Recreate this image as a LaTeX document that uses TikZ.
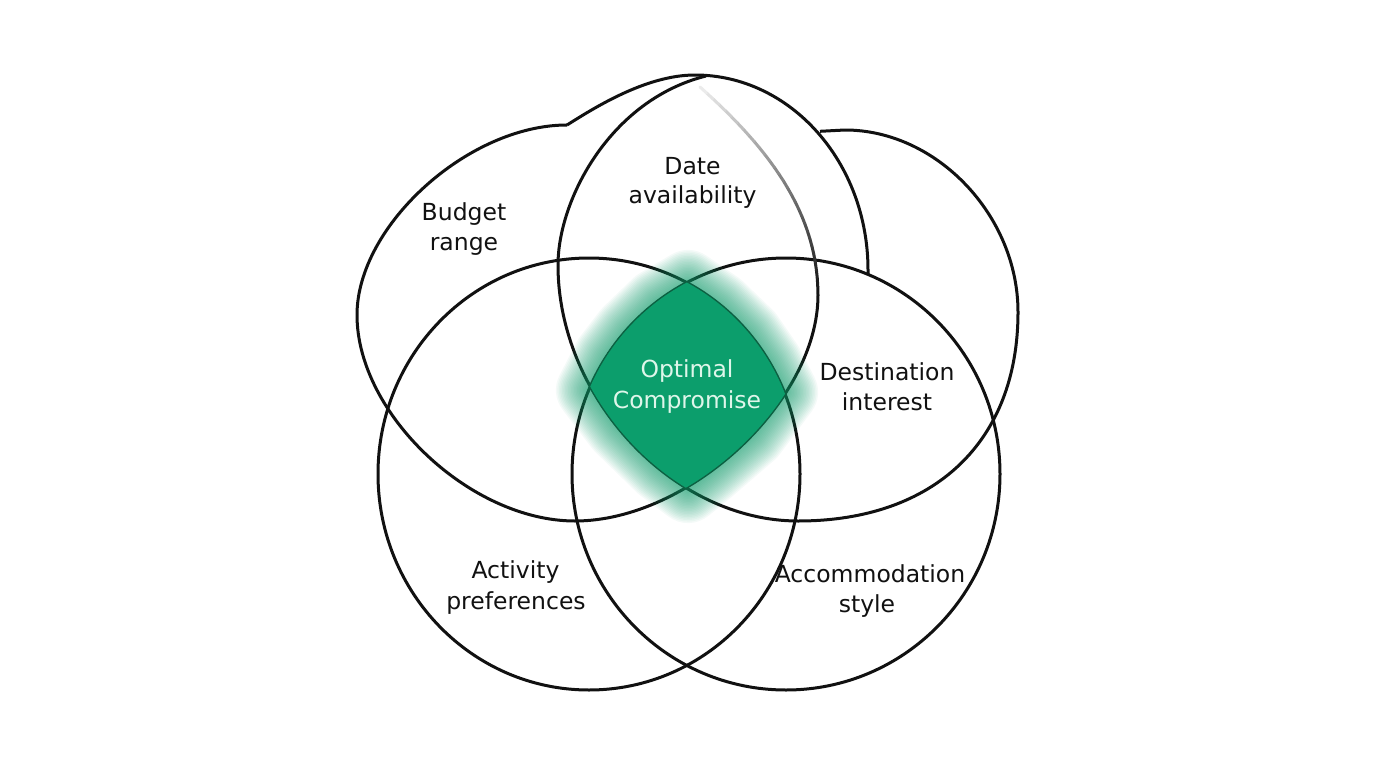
\documentclass[tikz,border=0pt]{standalone}
\usepackage{fontspec}
\setmainfont{DejaVu Sans}
\definecolor{lensgreen}{RGB}{12,158,108}
\definecolor{lenstext}{RGB}{222,246,234}
\definecolor{ink}{RGB}{17,17,17}
\begin{document}
\begin{tikzpicture}[x=1pt,y=-1pt,
  venn/.style={draw=ink, line width=3pt, line join=round},
  lbl/.style={font=\fontsize{23.5}{30}\selectfont, text=ink, anchor=base, inner sep=0pt},
  lenslbl/.style={lbl, text=lenstext},
  glowline/.style={draw=lensgreen, opacity=0.045, line join=round}]
\useasboundingbox (0,0) rectangle (1376,768);
\fill[white] (0,0) rectangle (1376,768);

% lower circles
\draw[venn] (589,474) ellipse [x radius=211, y radius=216];
\draw[venn] (786,474) ellipse [x radius=214, y radius=216];

% budget outline
\draw[venn] (567,125) .. controls (468.3,125) and (357,225.7) .. (357,315)
  .. controls (357,413.9) and (470.4,521) .. (575,521)
  .. controls (689.2,521) and (818,401.2) .. (818,295);

% fading continuation of the budget outline
\foreach \i in {0,...,29}{
  \pgfmathsetmacro{\ta}{\i/30}
  \pgfmathsetmacro{\tb}{(\i+1)/30}
  \pgfmathsetmacro{\xa}{(1-\ta)^3*818+3*(1-\ta)^2*\ta*818+3*(1-\ta)*\ta^2*765+\ta^3*700}
  \pgfmathsetmacro{\ya}{(1-\ta)^3*295+3*(1-\ta)^2*\ta*210+3*(1-\ta)*\ta^2*145+\ta^3*87}
  \pgfmathsetmacro{\xb}{(1-\tb)^3*818+3*(1-\tb)^2*\tb*818+3*(1-\tb)*\tb^2*765+\tb^3*700}
  \pgfmathsetmacro{\yb}{(1-\tb)^3*295+3*(1-\tb)^2*\tb*210+3*(1-\tb)*\tb^2*145+\tb^3*87}
  \pgfmathsetmacro{\p}{92-2.9*\i}
  \draw[line width=3pt, line cap=round, draw=black!\p] (\xa,\ya) -- (\xb,\yb);
}

% destination outline
\draw[venn] (820,131.3) -- (845,130)
  .. controls (936.7,130) and (1018,215.5) .. (1018,312)
  .. controls (1018,441.6) and (934.4,521) .. (798,521)
  .. controls (673.2,521) and (558,398.1) .. (558,265)
  .. controls (558,200) and (610,100) .. (706,76);

% top arc
\draw[venn] (567,125) .. controls (592,109.4) and (645,75) .. (695,75)
  .. controls (790.5,75) and (868,162.3) .. (868,270) -- (868,275);

% glow
\foreach \w in {3,6,...,66}{
  \draw[glowline, line width=\w pt] (688,283) -- (720,305) -- (750,334) -- (770,363) -- (785,392) -- (753,435) -- (710,472) -- (688,490) -- (660,469) -- (618,428) -- (589,390) -- (606,357) -- (626,331) -- (656,302) -- cycle;
}

% lens
\begin{scope}
\clip (589,474) ellipse [x radius=211, y radius=216];
\clip (786,474) ellipse [x radius=214, y radius=216];
\clip (567,125) .. controls (468.3,125) and (357,225.7) .. (357,315)
  .. controls (357,413.9) and (470.4,521) .. (575,521)
  .. controls (689.2,521) and (818,401.2) .. (818,295) -- (818,60) -- (567,60) -- cycle;
\clip (820,131.3) -- (845,130)
  .. controls (936.7,130) and (1018,215.5) .. (1018,312)
  .. controls (1018,441.6) and (934.4,521) .. (798,521)
  .. controls (673.2,521) and (558,398.1) .. (558,265)
  .. controls (558,200) and (610,100) .. (706,76) -- cycle;
\fill[lensgreen] (540,250) rectangle (840,540);
\end{scope}

% labels
\node[lbl] (budget1) at (464,220) {Budget};
\node[lbl] (budget2) at (464,250.5) {range};
\node[lbl] (date1) at (692.5,174) {Date};
\node[lbl] (date2) at (692.5,203.5) {availability};
\node[lenslbl] (opt1) at (687,377.3) {Optimal};
\node[lenslbl] (opt2) at (687,408.3) {Compromise};
\node[lbl] (dest1) at (887,380) {Destination};
\node[lbl] (dest2) at (887,410) {interest};
\node[lbl] (act1) at (515.5,578.3) {Activity};
\node[lbl] (act2) at (516,609.5) {preferences};
\node[lbl] (acc1) at (870,582.3) {Accommodation};
\node[lbl] (acc2) at (867,612.5) {style};
\end{tikzpicture}
\end{document}
